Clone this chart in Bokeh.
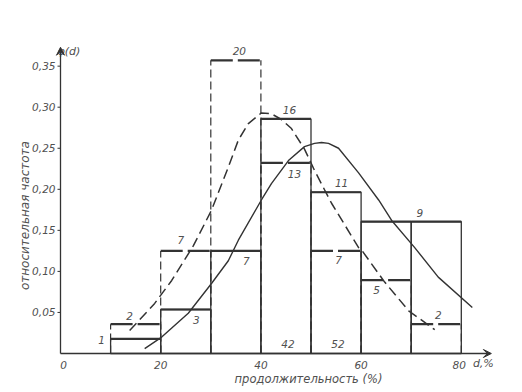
import numpy as np
from bokeh.plotting import figure
from bokeh.models import Range1d, Arrow, VeeHead, ColumnDataSource
from bokeh.core.properties import value
from bokeh.embed import file_html
from bokeh.resources import INLINE

# ---- data ----
bin_left = [10, 20, 30, 40, 50, 60, 70]
bin_right = [20, 30, 40, 50, 60, 70, 80]
solid_counts = [1, 3, 7, 16, 11, 9, 9]
dashed_counts = [2, 7, 20, 13, 7, 5, 2]
n_total = 56
solid_freq = [c / n_total for c in solid_counts]
dashed_freq = [c / n_total for c in dashed_counts]

bottom_labels = ["42", "52"]          # printed at foot of bins 40-50 and 50-60
bottom_bins = [3, 4]

dashed_curve_d = [13.8, 18.8, 22.2, 26.5, 30.1, 33.5, 35.5, 37.5, 40.1, 42.1,
                  44.1, 46.1, 48.7, 50.7, 54.1, 59.5, 60.1, 64.7, 69.5, 74.7]
dashed_curve_phi = [0.028, 0.061, 0.089, 0.131, 0.174, 0.227, 0.260, 0.280, 0.293, 0.292,
                    0.285, 0.274, 0.249, 0.223, 0.183, 0.129, 0.126, 0.087, 0.052, 0.029]
solid_curve_d = [16.8, 20.2, 25.5, 30.1, 33.5, 35.5, 40.1, 42.1, 45.5, 48.7,
                 50.7, 52.1, 53.5, 55.5, 59.5, 63.5, 66.1, 70.7, 75.4, 82.2]
solid_curve_phi = [0.006, 0.020, 0.049, 0.085, 0.113, 0.138, 0.187, 0.207, 0.235, 0.252,
                   0.256, 0.257, 0.256, 0.250, 0.220, 0.187, 0.162, 0.129, 0.093, 0.056]

x_ticks = [0, 20, 40, 60, 80]
x_tick_labels = ["0", "20", "40", "60", "80"]
y_ticks = [0.05, 0.10, 0.15, 0.20, 0.25, 0.30, 0.35]
y_tick_labels = ["0,05", "0,10", "0,15", "0,20", "0,25", "0,30", "0,35"]

x_title = "продолжительность (%)"
y_title = "относительная частота"
x_unit = "d,%"
y_name = "φ(d)"

# ---- styling ----
INK = "#333333"
TXT = "#505050"
FONT = "DejaVu Sans"
W, H = 520, 390
PX_X = 5.01      # px per unit d
PX_Y = 821.0     # px per unit phi
ORIG_X, ORIG_Y = 60, 353   # origin within figure (px from top-left)

p = figure(width=W, height=H, output_backend="svg", toolbar_location=None,
           x_axis_type=None, y_axis_type=None,
           x_range=Range1d(-ORIG_X / PX_X, (W - ORIG_X) / PX_X),
           y_range=Range1d(-(H - ORIG_Y) / PX_Y, ORIG_Y / PX_Y),
           min_border=0)
p.outline_line_color = None
p.grid.visible = False
p.background_fill_color = "white"
p.border_fill_color = "white"

def txt(**kw):
    base = dict(text_font=value(FONT), text_font_style="italic", text_color=TXT)
    base.update(kw)
    return base

# axes with arrows
p.add_layout(Arrow(end=VeeHead(size=8, line_color=INK, fill_color=INK, line_width=1),
                   x_start=0, y_start=0, x_end=86, y_end=0, line_color=INK, line_width=1.3))
p.add_layout(Arrow(end=VeeHead(size=8, line_color=INK, fill_color=INK, line_width=1),
                   x_start=0, y_start=0, x_end=0, y_end=0.373, line_color=INK, line_width=1.3))

# y ticks and labels
tick = 3 / PX_X
p.segment(x0=[-tick] * len(y_ticks), y0=y_ticks, x1=[0] * len(y_ticks), y1=y_ticks,
          line_color=INK, line_width=1)
p.text(x=[0] * len(y_ticks), y=y_ticks, text=y_tick_labels, x_offset=-5,
       **txt(text_font_size="10.5px", text_align="right", text_baseline="middle"))
# x tick labels
p.text(x=x_ticks, y=[0] * len(x_ticks), text=x_tick_labels, y_offset=11,
       x_offset=[3, 0, 0, 0, -2],
       **txt(text_font_size="10.5px", text_align="center", text_baseline="middle"))

# dashed histogram
p.segment(x0=bin_left, y0=[0] * 7, x1=bin_left, y1=dashed_freq,
          line_color=INK, line_width=1.2, line_dash="8 4")
p.segment(x0=bin_right, y0=[0] * 7, x1=bin_right, y1=dashed_freq,
          line_color=INK, line_width=1.2, line_dash="8 4")
p.segment(x0=bin_left, y0=dashed_freq, x1=bin_right, y1=dashed_freq,
          line_color=INK, line_width=2.2, line_dash="22 5")

# solid histogram
p.quad(left=bin_left, right=bin_right, bottom=[0] * 7, top=solid_freq,
       fill_color=None, line_color=INK, line_width=1.3)
p.segment(x0=bin_left, y0=solid_freq, x1=bin_right, y1=solid_freq,
          line_color=INK, line_width=2.2)

# curves
p.line(dashed_curve_d, dashed_curve_phi, line_color=INK, line_width=1.5,
       line_dash="10 5", line_join="round")
p.line(solid_curve_d, solid_curve_phi, line_color=INK, line_width=1.4, line_join="round")

# count labels
centers = [(a + b) / 2 for a, b in zip(bin_left, bin_right)]
solid_dx = [-6.8, 2.1, 2.1, 0.7, 1.1, None, -3.3]
solid_dy = [-1, -10, -10, 9, 9, None, 9]
dashed_dx = [-1.2, -1.0, 0.7, 1.7, 0.5, -1.9, 0.4]
dashed_dy = [8, 11, 9, -11, -9, -10, 9]

lx, ly, lt, lyo = [], [], [], []
for i in range(7):
    if solid_dx[i] is not None:
        lx.append(centers[i] + solid_dx[i]); ly.append(solid_freq[i])
        lt.append(str(solid_counts[i])); lyo.append(-solid_dy[i])
    lx.append(centers[i] + dashed_dx[i]); ly.append(dashed_freq[i])
    lt.append(str(dashed_counts[i])); lyo.append(-dashed_dy[i])
for lab, b in zip(bottom_labels, bottom_bins):
    lx.append(centers[b] + 0.4); ly.append(0); lt.append(lab); lyo.append(-10)

src = ColumnDataSource(dict(x=lx, y=ly, text=lt, yo=lyo))
p.text(x="x", y="y", text="text", y_offset="yo", source=src,
       **txt(text_font_size="10.5px", text_align="center", text_baseline="middle"))

# titles
p.text(x=[-7], y=[0.168], text=[y_title], angle=np.pi / 2,
       **txt(text_font_size="12px", text_align="center", text_baseline="middle"))
p.text(x=[49.5], y=[0], text=[x_title], y_offset=25,
       **txt(text_font_size="11.5px", text_align="center", text_baseline="middle"))
p.text(x=[0], y=[0.368], text=[y_name], x_offset=-3,
       **txt(text_font_size="11px", text_align="left", text_baseline="middle"))
p.text(x=[84.4], y=[0], text=[x_unit], y_offset=10,
       **txt(text_font_size="11px", text_align="center", text_baseline="middle"))

open("out.html", "w").write(file_html(p, INLINE))
